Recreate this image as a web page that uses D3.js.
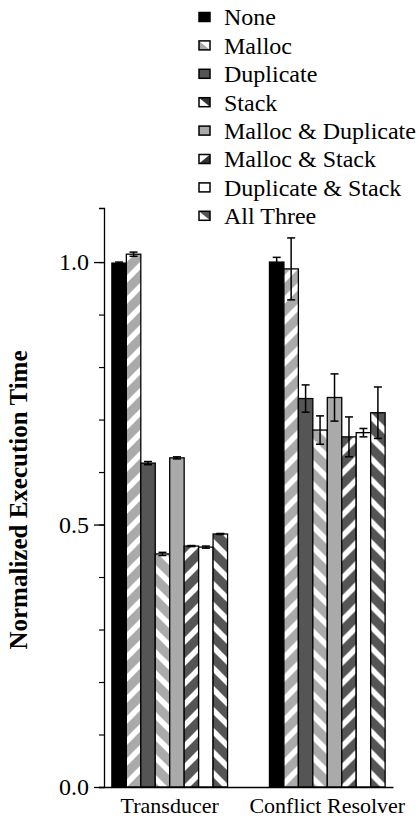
<!DOCTYPE html>
<html>
<head>
<meta charset="utf-8">
<script src="https://d3js.org/d3.v7.min.js"></script>
<style>
  body { margin: 0; background: #fff; }
  text { font-family: "Liberation Serif", "Times New Roman", serif; }
</style>
</head>
<body>
<script>
// ---- data ----
var groups = ["Transducer", "Conflict Resolver"];
var series = ["None", "Malloc", "Duplicate", "Stack", "Malloc & Duplicate",
              "Malloc & Stack", "Duplicate & Stack", "All Three"];
var transducer    = [0.998, 1.015, 0.617, 0.444, 0.627, 0.459, 0.457, 0.482];
var transducerErr = [0.002, 0.004, 0.003, 0.003, 0.002, 0.001, 0.002, 0.001];
var resolver      = [1.0, 0.987, 0.740, 0.680, 0.742, 0.667, 0.675, 0.713];
var resolverErr   = [0.009, 0.059, 0.026, 0.027, 0.045, 0.038, 0.008, 0.049];
var yMajor = [0, 0.5, 1.0];

// fill style per series: base colour and stripe direction
var baseColor = ["#000", "#aaa", "#555", "#aaa", "#aaa", "#555", "#fff", "#555"];
var stripes   = [null, "up", null, "down", null, "up", null, "down"];

var width = 418, height = 824;
var svg = d3.select("body").append("svg")
    .attr("width", width)
    .attr("height", height);

var defs = svg.append("defs");
series.forEach(function(s, i) {
  if (!stripes[i]) return;
  var p = defs.append("pattern")
      .attr("id", "pat" + i)
      .attr("patternUnits", "userSpaceOnUse")
      .attr("width", 21).attr("height", 21);
  p.append("rect").attr("width", 21).attr("height", 21).attr("fill", baseColor[i]);
  var d = stripes[i] == "up"
      ? "M-5,5 L5,-5 M0,21 L21,0 M16,26 L26,16"
      : "M-5,16 L5,26 M0,0 L21,21 M16,-5 L26,5";
  p.append("path").attr("d", d).attr("stroke", "#fff").attr("stroke-width", 5.5);
});
function fillOf(i) { return stripes[i] ? "url(#pat" + i + ")" : baseColor[i]; }

// scales
var x0 = d3.scaleBand().domain(groups).range([104, 393])
    .paddingInner(0.266).paddingOuter(0.05);
var x1 = d3.scaleBand().domain(series).range([0, x0.bandwidth()]);
var y = d3.scaleLinear().domain([0, 1.103]).range([787, 208]);

var rows = [
  {group: groups[0], vals: transducer, errs: transducerErr},
  {group: groups[1], vals: resolver, errs: resolverErr}
];

// bars
var g = svg.append("g");
rows.forEach(function(r) {
  var gg = g.append("g").attr("transform", "translate(" + x0(r.group) + ",0)");
  gg.selectAll("rect")
    .data(r.vals)
    .join("rect")
      .attr("x", function(d, i) { return x1(series[i]); })
      .attr("y", function(d) { return y(d); })
      .attr("width", x1.bandwidth())
      .attr("height", function(d) { return y(0) - y(d); })
      .attr("fill", function(d, i) { return fillOf(i); })
      .attr("stroke", "#000")
      .attr("stroke-width", 1.3);

  // error bars
  var eb = gg.selectAll("g.err")
    .data(r.vals)
    .join("g").attr("class", "err")
      .attr("transform", function(d, i) {
        return "translate(" + (x1(series[i]) + x1.bandwidth() / 2) + ",0)";
      });
  eb.append("line")
      .attr("y1", function(d, i) { return y(d + r.errs[i]); })
      .attr("y2", function(d, i) { return y(d - r.errs[i]); })
      .attr("stroke", "#000").attr("stroke-width", 1.5);
  eb.each(function(d, i) {
    d3.select(this).selectAll("line.cap")
      .data([d + r.errs[i], d - r.errs[i]])
      .join("line").attr("class", "cap")
        .attr("x1", -4).attr("x2", 4)
        .attr("y1", function(v) { return y(v); })
        .attr("y2", function(v) { return y(v); })
        .attr("stroke", "#000").attr("stroke-width", 1.5);
  });
});

// y axis: minor ticks, then major ticks with labels
svg.append("g")
    .attr("transform", "translate(104,0)")
    .call(d3.axisLeft(y).tickValues(d3.range(0, 11).map(function(k) { return k / 10; }))
      .tickSize(5).tickFormat(""))
    .call(function(a) { a.select(".domain").attr("stroke-width", 1.3); })
    .selectAll("line").attr("stroke-width", 1.2);
svg.append("g")
    .attr("transform", "translate(104,0)")
    .call(d3.axisLeft(y).tickValues(yMajor).tickSize(10).tickPadding(5)
      .tickFormat(d3.format(".1f")))
    .call(function(a) {
      a.select(".domain").remove();
      a.selectAll("line").attr("stroke-width", 1.3);
      a.selectAll("text").attr("font-size", 24).attr("fill", "#000");
    });

// x baseline and labels
svg.append("g")
    .attr("transform", "translate(0,787)")
    .call(d3.axisBottom(x0).tickSize(0).tickPadding(10).tickSizeOuter(0))
    .call(function(a) {
      a.select(".domain").attr("stroke-width", 1.3);
      a.selectAll("text").attr("font-size", 22).attr("fill", "#000");
    });

// y title
svg.append("text")
    .attr("transform", "translate(27,500) rotate(-90)")
    .attr("text-anchor", "middle")
    .attr("font-size", 25)
    .attr("font-weight", "bold")
    .text("Normalized Execution Time");

// legend
var sw = 11, sh = 9;
var tri = [null, [[0,0],[0,sh],[sw,sh]], null, [[0,0],[sw,0],[sw,sh]], null,
           [[sw,0],[sw,sh],[0,sh]], null, [[0,0],[0,sh],[sw,sh]]];
var legBase = ["#000", "#fff", "#555", "#fff", "#aaa", "#fff", "#fff", "#555"];
var legTri  = [null, "#aaa", null, "#333", null, "#333", null, "#fff"];
var leg = svg.append("g").attr("transform", "translate(199,17)")
  .selectAll("g")
  .data(series)
  .join("g")
    .attr("transform", function(d, i) { return "translate(0," + (i * 28.4) + ")"; });
leg.append("rect")
    .attr("y", -sh / 2).attr("width", sw).attr("height", sh)
    .attr("fill", function(d, i) { return legBase[i]; });
leg.each(function(d, i) {
  if (!tri[i]) return;
  d3.select(this).append("polygon")
    .attr("points", tri[i].map(function(p) { return p[0] + "," + (p[1] - sh / 2); }).join(" "))
    .attr("fill", legTri[i]);
});
leg.append("rect")
    .attr("y", -sh / 2).attr("width", sw).attr("height", sh)
    .attr("fill", "none").attr("stroke", "#000").attr("stroke-width", 1.5);
leg.append("text")
    .attr("x", 25).attr("dy", "0.35em")
    .attr("font-size", 24)
    .text(function(d) { return d; });
</script>
</body>
</html>
